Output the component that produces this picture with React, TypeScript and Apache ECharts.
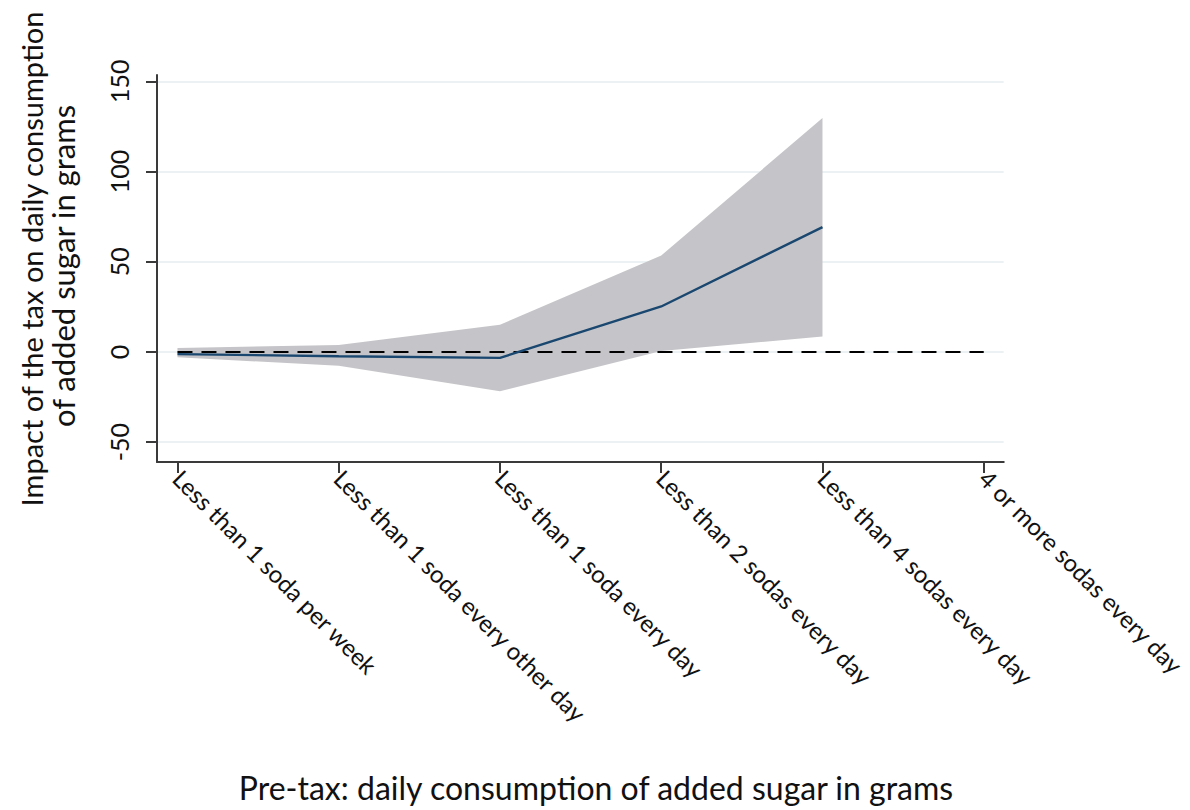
import React, { useEffect, useRef } from "react";
import * as echarts from "echarts";

const categories = [
  "Less than 1 soda per week",
  "Less than 1 soda every other day",
  "Less than 1 soda every day",
  "Less than 2 sodas every day",
  "Less than 4 sodas every day",
  "4 or more sodas every day",
];
const estimate = [-1.2, -2.4, -3.3, 25.2, 69.2];
const lower = [-3.0, -7.6, -21.8, 0.5, 8.6];
const upper = [2.2, 3.8, 15.1, 53.5, 129.6];
const yTicks = [-50, 0, 50, 100, 150];
const gridValues = [-50, 0, 50, 100, 150];

const yTitle1 = "Impact of the tax on daily consumption";
const yTitle2 = "of added sugar in grams";
const xTitle = "Pre-tax: daily consumption of added sugar in grams";

const FONT = "Lato, 'Open Sans', sans-serif";

export default function App() {
  const ref = useRef<HTMLDivElement>(null);
  useEffect(() => {
    if (!ref.current) return;
    const chart = echarts.init(ref.current, undefined, { renderer: "svg" });
    const idx = categories.map((_, i) => i);
    chart.setOption({
      animation: false,
      backgroundColor: "#ffffff",
      grid: { left: 157, right: 185, top: 75, bottom: 348, containLabel: false },
      xAxis: {
        type: "value",
        min: -0.127,
        max: 5.124,
        axisLine: { show: true, onZero: false, lineStyle: { color: "#3a3a3a", width: 2 } },
        axisTick: {
          show: true,
          length: 11,
          customValues: idx,
          lineStyle: { color: "#3a3a3a", width: 2 },
        },
        axisLabel: {
          show: true,
          customValues: idx,
          rotate: -45,
          margin: 12,
          fontFamily: FONT,
          fontSize: 24,
          color: "#111",
          formatter: (v: number) => categories[Math.round(v)] ?? "",
        },
        splitLine: { show: false },
      },
      yAxis: {
        type: "value",
        min: -61,
        max: 153.5,
        axisLine: { show: true, onZero: false, lineStyle: { color: "#3a3a3a", width: 2 } },
        axisTick: {
          show: true,
          length: 11,
          customValues: yTicks,
          lineStyle: { color: "#3a3a3a", width: 2 },
        },
        axisLabel: {
          show: true,
          customValues: yTicks,
          rotate: 90,
          margin: 26,
          fontFamily: FONT,
          fontSize: 25,
          color: "#111",
        },
        splitLine: { show: false },
      },
      graphic: [
        {
          type: "text",
          x: 31,
          y: 259,
          rotation: Math.PI / 2,
          style: {
            text: yTitle1,
            font: `29px ${FONT}`,
            fill: "#111",
            align: "center",
            verticalAlign: "middle",
          },
        },
        {
          type: "text",
          x: 63,
          y: 266,
          rotation: Math.PI / 2,
          style: {
            text: yTitle2,
            font: `31px ${FONT}`,
            fill: "#111",
            align: "center",
            verticalAlign: "middle",
          },
        },
        {
          type: "text",
          x: 596,
          y: 787,
          style: {
            text: xTitle,
            font: `32px ${FONT}`,
            fill: "#111",
            align: "center",
            verticalAlign: "middle",
          },
        },
      ],
      series: [
        {
          name: "grid",
          type: "line",
          data: idx.map((i) => [i, 0]),
          symbol: "none",
          lineStyle: { opacity: 0 },
          z: 1,
          silent: true,
          markLine: {
            silent: true,
            z: 0,
            symbol: "none",
            label: { show: false },
            lineStyle: { color: "#e6eeef", width: 1.5, type: "solid" },
            data: gridValues.map((v) => ({ yAxis: v })),
          },
        },
        {
          name: "band",
          type: "custom",
          data: upper.map((v, i) => [i, lower[i], v]),
          encode: { x: 0, y: [1, 2] },
          z: 2,
          silent: true,
          renderItem: (params: any, api: any) => {
            if (params.dataIndex !== 0) return null;
            const top = upper.map((v, i) => api.coord([i, v]));
            const bottom = lower.map((v, i) => api.coord([i, v])).reverse();
            return {
              type: "polygon",
              shape: { points: top.concat(bottom) },
              style: { fill: "#c5c5c9", stroke: "none" },
            };
          },
        },
        {
          name: "zero",
          type: "line",
          data: idx.map((i) => [i, 0]),
          symbol: "none",
          lineStyle: { color: "#000", width: 2, type: [15, 9] },
          z: 6,
          silent: true,
        },
        {
          name: "estimate",
          type: "line",
          data: estimate.map((v, i) => [i, v]),
          symbol: "none",
          lineStyle: { color: "#1a476f", width: 2.4 },
          z: 7,
          silent: true,
        },
      ],
    });
    return () => chart.dispose();
  }, []);
  return (
    <div
      ref={ref}
      style={{ position: "fixed", left: 0, top: 0, width: 1190, height: 810 }}
    />
  );
}
